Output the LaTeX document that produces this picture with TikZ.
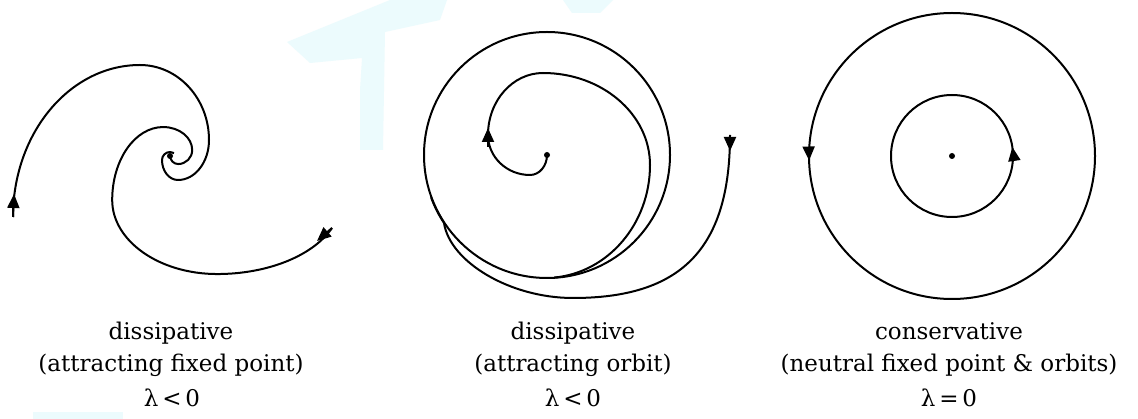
\documentclass[tikz,border=0pt]{standalone}
\usepackage{fontspec}
\setmainfont{DejaVu Serif}
\usetikzlibrary{arrows.meta,decorations.markings}
\definecolor{wmcyan}{RGB}{236,251,253}
\tikzset{
  traj/.style={line width=2pt, black, line join=round},
  arrowat/.style={postaction={decorate}, decoration={markings,
      mark=at position #1 with {\arrow{Triangle[length=14pt,width=12pt]}}}},
  tipend/.style={-{Triangle[length=14pt,width=12pt]}},
  dot/.style={circle, fill=black, inner sep=0pt, minimum size=6pt},
  caption/.style={font=\fontsize{23}{26}\selectfont, anchor=base, inner sep=0pt},
  wm/.style={fill=wmcyan, draw=none}
}
\begin{document}
\begin{tikzpicture}[x=1pt,y=-1pt]
\useasboundingbox (0,0) rectangle (1138,419);
\fill[white] (0,0) rectangle (1138,419);

% faint background watermark
\fill[wm] (287,42) -- (390,0) -- (447,0) -- (440,20) -- (385,32) -- (383,150)
  -- (360,150) -- (360,90) -- (362,58) -- (310,63) -- cycle;
\fill[wm] (563,0) -- (613,0) -- (600,13) -- (572,13) -- cycle;
\fill[wm] (33,412) rectangle (123,419);

% ---------- left: attracting fixed point ----------
\node[dot] (c1) at (170,156) {};
\coordinate (s1) at (13,217);
\draw[traj] (s1)
  arc[start angle=180, end angle=90, x radius=127pt, y radius=152pt]
  arc[start angle=90, end angle=0, x radius=69pt, y radius=75pt]
  arc[start angle=0, end angle=-90, x radius=31pt, y radius=40pt]
  arc[start angle=-90, end angle=-180, x radius=16pt, y radius=20pt]
  arc[start angle=180, end angle=60, x radius=8pt, y radius=8pt];
\coordinate (a1e) at (14,194);
\draw[traj, tipend] (s1) -- (a1e);
\coordinate (s2) at (332,228);
\draw[traj] (s2)
  arc[start angle=-22.2, end angle=-90, x radius=124pt, y radius=74pt]
  arc[start angle=-90, end angle=-180, x radius=105pt, y radius=74pt]
  arc[start angle=180, end angle=90, x radius=51pt, y radius=73pt]
  arc[start angle=90, end angle=0, x radius=29pt, y radius=23pt]
  arc[start angle=0, end angle=-90, x radius=14pt, y radius=14pt]
  arc[start angle=-90, end angle=-180, x radius=8pt, y radius=8pt];
\coordinate (a2e) at (317,241);
\draw[traj, tipend] (s2) -- (a2e);

% ---------- middle: attracting orbit ----------
\node[dot] (c2) at (547,155) {};
\draw[traj] (c2.center) circle[radius=123pt];
\draw[traj] (c2.center)
  arc[start angle=0, end angle=-90, x radius=17pt, y radius=20pt]
  arc[start angle=-90, end angle=-180, x radius=42pt, y radius=40pt]
  arc[start angle=180, end angle=90, x radius=55pt, y radius=62pt]
  arc[start angle=90, end angle=0, x radius=107pt, y radius=92pt]
  arc[start angle=0, end angle=-85, x radius=105pt, y radius=113pt];
\coordinate (m1) at (488,147);
\coordinate (m2) at (488,128);
\draw[traj, tipend] (m1) -- (m2);
\coordinate (s3) at (730,135);
\coordinate (b3) at (573,298);
\coordinate (e3) at (444,223);
\draw[traj] (s3) .. controls (730,250) and (680,298) .. (b3)
  .. controls (510,298) and (450,262) .. (e3)
  arc[start angle=213.4, end angle=200, radius=123.4pt];
\coordinate (a3e) at (730,151);
\draw[traj, tipend] (s3) -- (a3e);

% ---------- right: neutral fixed point & orbits ----------
\node[dot] (c3) at (952,156) {};
\draw[traj, arrowat=0.505] (c3.center) circle[radius=143pt];
\draw[traj, arrowat=9pt] (c3.center) circle[radius=61pt];

% ---------- captions ----------
\node[caption] (t1a) at (171,340) {dissipative};
\node[caption] (t1b) at (171,372) {(attracting fixed point)};
\node[caption] (t1c) at (172,407) {λ\,<\,0};
\node[caption] (t2a) at (573,340) {dissipative};
\node[caption] (t2b) at (573,372) {(attracting orbit)};
\node[caption] (t2c) at (573,407) {λ\,<\,0};
\node[caption] (t3a) at (949,340) {conservative};
\node[caption] (t3b) at (949,372) {(neutral fixed point \& orbits)};
\node[caption] (t3c) at (949,407) {λ\,=\,0};
\end{tikzpicture}
\end{document}
